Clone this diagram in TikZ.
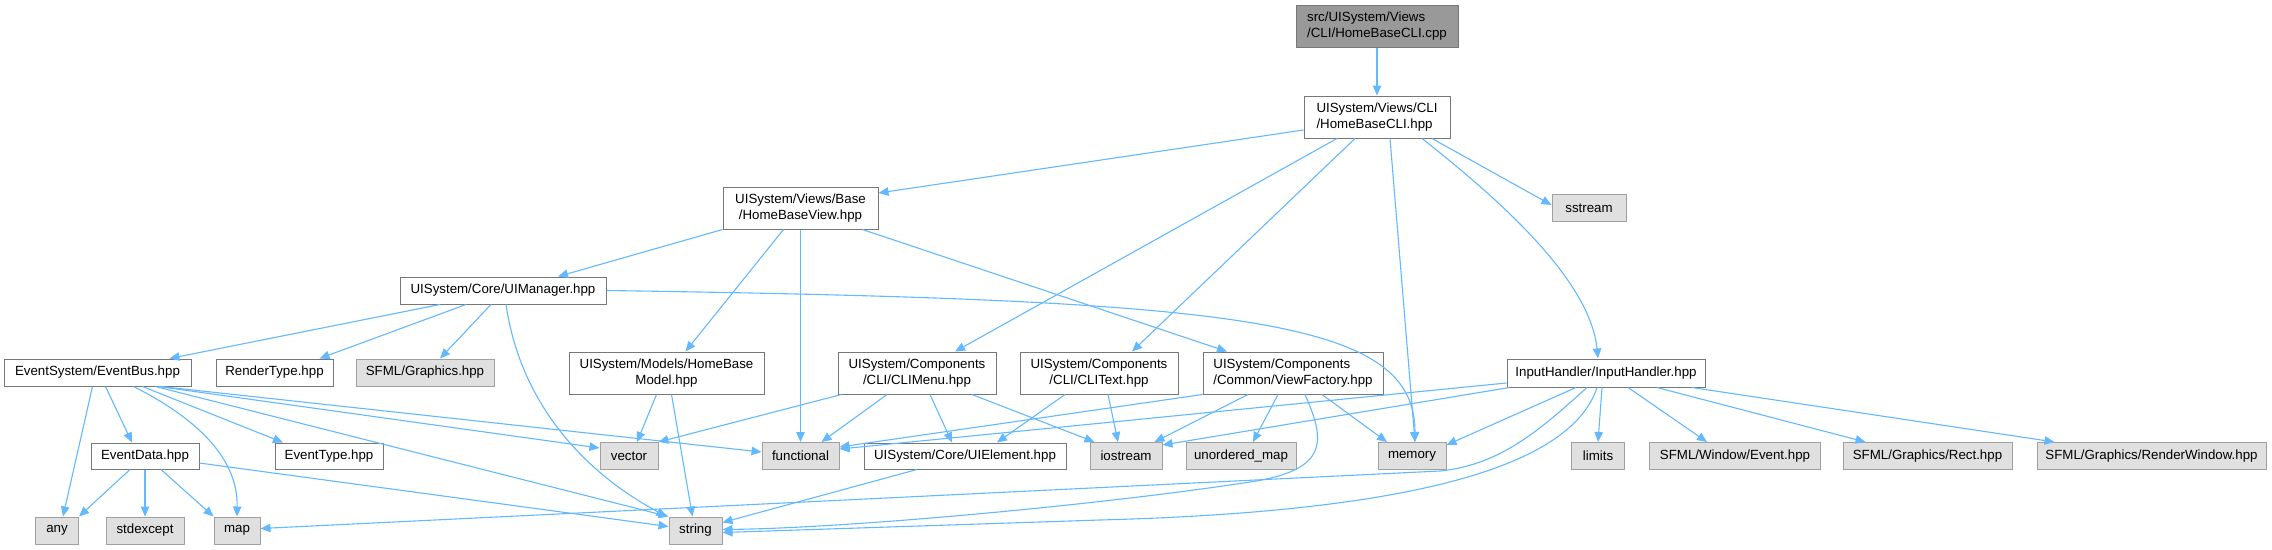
\documentclass[tikz,border=0pt]{standalone}
\usepackage{fontspec}
\setmainfont{Liberation Sans}
\usetikzlibrary{arrows.meta}
\definecolor{depblue}{HTML}{63B8FF}
\definecolor{sysgrey}{HTML}{E0E0E0}
\definecolor{sysedge}{HTML}{A0A0A0}
\definecolor{fileedge}{HTML}{777777}
\definecolor{maingrey}{HTML}{999999}
\newcommand{\doxfont}{\fontsize{13.3}{16}\selectfont}

\begin{document}
\begin{tikzpicture}[x=1pt, y=-1pt,
    file/.style={draw=fileedge, fill=white, line width=1pt, font=\doxfont, align=center,
      inner xsep=0pt, inner ysep=0pt, minimum height=26pt},
    twoline/.style={minimum height=42pt},
    sysfile/.style={file, draw=sysedge, fill=sysgrey},
    mainfile/.style={file, fill=maingrey},
    dep/.style={draw=depblue, line width=1.1pt, -{Triangle[length=10pt, width=8.5pt]}}]
  \useasboundingbox (0,0) rectangle (2272,549);

  % project files
  \node[mainfile, twoline, minimum width=162pt, align=left] (cpp) at (1377,26.5) {src/UISystem/Views\\/CLI/HomeBaseCLI.cpp};
  \node[file, twoline, minimum width=146pt, align=left] (cli) at (1377,117) {UISystem/Views/CLI\\/HomeBaseCLI.hpp};
  \node[file, twoline, minimum width=155pt] (view) at (800.5,208) {UISystem/Views/Base\\/HomeBaseView.hpp};
  \node[file, minimum width=206pt, minimum height=27pt] (mgr) at (503,290.5) {UISystem/Core/UIManager.hpp};
  \node[file, minimum width=187pt, minimum height=27pt] (bus) at (97.5,372.5) {EventSystem/EventBus.hpp};
  \node[file, minimum width=117pt, minimum height=27pt] (rtype) at (274.5,372.5) {RenderType.hpp};
  \node[file, twoline, minimum width=195pt] (model) at (666.5,373) {UISystem/Models/HomeBase\\Model.hpp};
  \node[file, twoline, minimum width=158pt] (menu) at (917,373) {UISystem/Components\\/CLI/CLIMenu.hpp};
  \node[file, twoline, minimum width=158pt] (clitext) at (1099,373) {UISystem/Components\\/CLI/CLIText.hpp};
  \node[file, twoline, minimum width=180pt, align=left] (factory) at (1293,373) {UISystem/Components\\/Common/ViewFactory.hpp};
  \node[file, minimum width=198pt, minimum height=28pt] (input) at (1606,373) {InputHandler/InputHandler.hpp};
  \node[file, minimum width=108pt] (edata) at (145,456) {EventData.hpp};
  \node[file, minimum width=108pt] (etype) at (329,456) {EventType.hpp};
  \node[file, minimum width=202pt] (elem) at (965,456) {UISystem/Core/UIElement.hpp};

  % system and library headers
  \foreach \n/\x/\y/\w/\t in {sstream/1589/208/74/sstream,
      sfgfx/425/372.5/138/{SFML/Graphics.hpp},
      vector/629/456/58/vector, func/800.5/456/77/functional,
      iostream/1126/456/72/iostream, umap/1241/456/110/{unordered\_map},
      memory/1412/456/68/memory, limits/1598/456/53/limits,
      sfevent/1735/456/171/{SFML/Window/Event.hpp},
      sfrect/1927.5/456/169/{SFML/Graphics/Rect.hpp},
      sfwin/2151.5/456/229/{SFML/Graphics/RenderWindow.hpp},
      any/57/530.5/43/any, stdexc/145/530.5/78/stdexcept,
      map/237/530.5/46/map, string/695.5/530.5/53/string}{
    \node[sysfile, minimum width=\w pt, minimum height=27pt] (\n) at (\x,\y) {\t};
  }

  % includes
  \draw[dep] (cpp) -- (cli);
  \draw[dep] ([yshift=-13pt]cli.west) -- ([yshift=15pt]view.east);
  \draw[dep] ([xshift=55pt]cli.south) -- ([yshift=3pt]sstream.west);
  \draw[dep] ([xshift=-40pt]cli.south) -- ([xshift=38pt]menu.north);
  \draw[dep] ([xshift=-22pt]cli.south) -- ([xshift=33pt]clitext.north);
  \draw[dep] ([xshift=13pt]cli.south) -- ([xshift=3pt]memory.north);
  \draw[dep] ([xshift=45pt]cli.south) .. controls (1500,200) and (1590,280) .. ([xshift=-8pt]input.north);

  \draw[dep] (view.south west) -- ([xshift=55pt]mgr.north);
  \draw[dep] ([xshift=-17pt]view.south) -- ([xshift=19pt]model.north);
  \draw[dep] (view) -- (func);
  \draw[dep] ([xshift=62pt]view.south) -- ([xshift=-66pt]factory.north);

  \draw[dep] ([xshift=-63pt]mgr.south) -- ([xshift=72pt]bus.north);
  \draw[dep] ([xshift=-37pt]mgr.south) -- ([xshift=45pt]rtype.north);
  \draw[dep] ([xshift=-12pt]mgr.south) -- ([xshift=15pt]sfgfx.north);
  \draw[dep] ([xshift=3pt]mgr.south) .. controls (520,400) and (580,470) .. ([xshift=-2pt]string.north west);
  \draw[dep] (mgr.east) .. controls (1250,300) and (1415,320) .. ([xshift=3pt]memory.north);

  \draw[dep] ([xshift=-5pt]bus.south) -- ([xshift=6pt]any.north);
  \draw[dep] ([xshift=8pt]bus.south) -- ([xshift=-13pt]edata.north);
  \draw[dep] ([xshift=36pt]bus.south) .. controls (200,420) and (238,460) .. (map.north);
  \draw[dep] ([xshift=45pt]bus.south) -- ([xshift=-46pt]etype.north);
  \draw[dep] ([xshift=58pt]bus.south) -- (string.north west);
  \draw[dep] ([xshift=61pt]bus.south) -- ([yshift=8pt]vector.west);
  \draw[dep] ([xshift=63pt]bus.south) -- ([yshift=4pt]func.west);

  \draw[dep] ([xshift=-15pt]edata.south) -- (any.north east);
  \draw[dep] (edata) -- (stdexc);
  \draw[dep] ([xshift=16pt]edata.south) -- (map.north west);
  \draw[dep] ([yshift=-7pt]edata.east) -- ([yshift=4pt]string.west);

  \draw[dep] ([xshift=-10pt]model.south) -- ([xshift=8pt]vector.north);
  \draw[dep] ([xshift=5pt]model.south) -- ([xshift=-3pt]string.north);

  \draw[dep] ([xshift=4pt]menu.south west) -- (vector.north east);
  \draw[dep] ([xshift=-30pt]menu.south) -- ([xshift=21pt]func.north);
  \draw[dep] ([xshift=13pt]menu.south) -- ([xshift=-13pt]elem.north);
  \draw[dep] ([xshift=55pt]menu.south) -- ([xshift=5pt]iostream.north west);

  \draw[dep] ([xshift=-34pt]clitext.south) -- ([xshift=32pt]elem.north);
  \draw[dep] ([xshift=9pt]clitext.south) -- ([xshift=-8pt]iostream.north);

  \draw[dep] (factory.south west) -- ([yshift=9pt]func.east);
  \draw[dep] ([xshift=-45pt]factory.south) -- ([xshift=-8pt]iostream.north east);
  \draw[dep] ([xshift=-15pt]factory.south) -- ([xshift=12pt]umap.north);
  \draw[dep] ([xshift=29pt]factory.south) -- ([xshift=-25pt]memory.north);
  \draw[dep] ([xshift=12pt]factory.south) .. controls (1325,440) and (1330,470) .. (1250,482)
    .. controls (1100,505) and (850,528) .. ([yshift=1pt]string.east);

  \draw[dep] ([xshift=-48pt]elem.south) -- ([yshift=8pt]string.east);

  \draw[dep] ([yshift=-10pt]input.west) -- ([yshift=7pt]func.east);
  \draw[dep] ([xshift=3pt]input.south west) -- ([yshift=-3pt]iostream.north east);
  \draw[dep] ([xshift=-30pt]input.south) -- ([yshift=-3pt]memory.north east);
  \draw[dep] ([xshift=-4pt]input.south) -- (limits.north);
  \draw[dep] ([xshift=22pt]input.south) -- ([xshift=-28pt]sfevent.north);
  \draw[dep] ([xshift=51pt]input.south) -- ([xshift=-62pt]sfrect.north);
  \draw[dep] ([xshift=86pt]input.south) -- ([xshift=-97pt]sfwin.north);
  \draw[dep] ([xshift=-19pt]input.south) .. controls (1540,430) and (1500,465) .. (1440,471) -- ([yshift=2pt]map.east);
  \draw[dep] ([xshift=-9pt]input.south) .. controls (1570,470) and (1400,512) .. (1100,520) -- ([yshift=-2pt]string.east);
\end{tikzpicture}
\end{document}
